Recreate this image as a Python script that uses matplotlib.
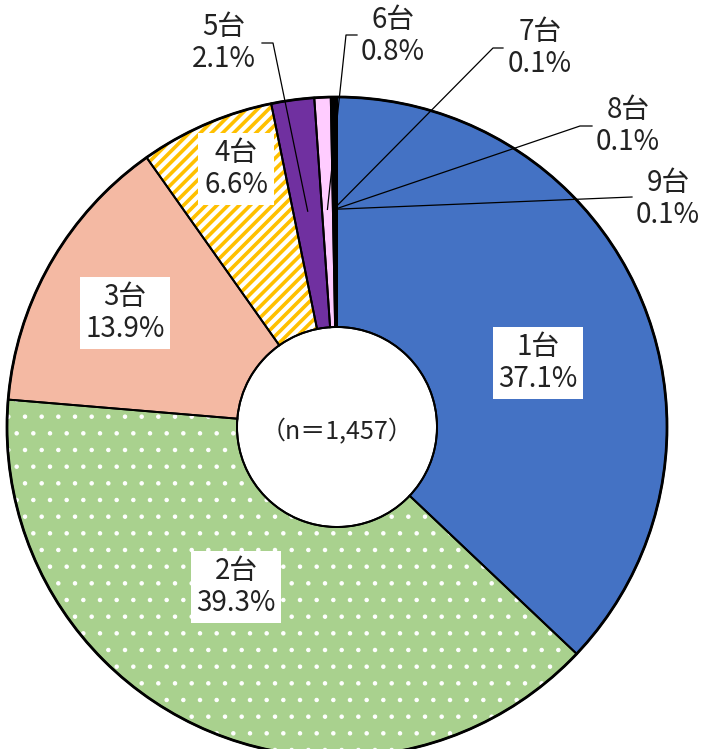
import numpy as np
import matplotlib
matplotlib.use('Agg')
import matplotlib.pyplot as plt

plt.rcParams['font.family'] = ['Noto Sans CJK JP', 'DejaVu Sans']

# data
labels = ['1台', '2台', '3台', '4台', '5台', '6台', '7台', '8台', '9台']
shares = [37.1, 39.3, 13.9, 6.6, 2.1, 0.8, 0.1, 0.1, 0.1]
n_total = '1,457'

# styles
colors = ['#4472C4', '#A9D18E', '#F4B9A3', '#FFFFFF', '#7030A0',
          '#FFCCFF', '#111111', '#1F2A44', '#000000']
hatches = [None, '.', None, '///', None, None, None, None, None]
hatch_colors = ['#4472C4', '#FFFFFF', '#F4B9A3', '#FFC000', '#7030A0',
                '#FFCCFF', '#111111', '#1F2A44', '#000000']
hatch_lw = [1.0, 0.8, 1.0, 2.6, 1.0, 1.0, 1.0, 1.0, 1.0]

# layout in reference pixels (figure is 703x749)
W, H = 703, 749
CX, CY, R = 337, 427, 330
HOLE = 100 / R


def px(x, y):
    return (x - CX) / R, (CY - y) / R


# label positions (pixels); boxed labels sit inside the ring
boxed_pos = {0: (538, 363), 1: (236, 587), 2: (125, 313), 3: (236, 169)}
# outside labels: text centre, elbow start, elbow end
outer_pos = {4: ((224, 43), (262, 43), (273, 43)),
             5: ((393, 36), (357, 35), (346, 35)),
             6: ((540, 48), (503, 48), (493, 48)),
             7: ((628, 126), (592, 126), (580, 126)),
             8: ((668, 199), (632, 197), (632, 197))}

fig = plt.figure(figsize=(W / 100, H / 100), dpi=100)
ax = fig.add_axes([0, 0, 1, 1])

plt.rcParams['hatch.linewidth'] = 1.0
fills, _ = ax.pie(shares, colors=colors, startangle=90, counterclock=False,
                  wedgeprops=dict(width=1 - HOLE, linewidth=0))
for w, h, hc, hl in zip(fills, hatches, hatch_colors, hatch_lw):
    w.set_edgecolor(hc)
    if h:
        w.set_hatch(h)
        if hasattr(w, 'set_hatch_linewidth'):
            w.set_hatch_linewidth(hl)

# outlines
ax.pie(shares, colors=['none'] * len(shares), startangle=90, counterclock=False,
       wedgeprops=dict(width=1 - HOLE, linewidth=1.4, edgecolor='black', fill=False))
ax.add_patch(plt.Circle((0, 0), 1.0, fill=False, lw=2.0, ec='black'))
ax.add_patch(plt.Circle((0, 0), HOLE, fill=False, lw=1.4, ec='black'))

# wedge mid angles (clockwise from top)
total = sum(shares)
cum = np.cumsum([0] + shares[:-1])
mids = [90 - (c + s / 2) / total * 360 for c, s in zip(cum, shares)]

txt = dict(fontsize=20, color='#222222', ha='center', va='center', linespacing=1.05)

for i, (x, y) in boxed_pos.items():
    ax.text(*px(x, y), f'{labels[i]}\n{shares[i]:.1f}%', zorder=5,
            bbox=dict(boxstyle='square,pad=0.2', fc='white', ec='none'), **txt)

for i, (tpos, e0, e1) in outer_pos.items():
    ax.text(*px(*tpos), f'{labels[i]}\n{shares[i]:.1f}%', zorder=5, **txt)
    a = np.deg2rad(mids[i])
    tip = (0.66 * np.cos(a), 0.66 * np.sin(a))
    p0, p1 = px(*e0), px(*e1)
    ax.plot([p0[0], p1[0], tip[0]], [p0[1], p1[1], tip[1]],
            color='black', lw=0.9, zorder=4)

ax.text(0, px(0, 432)[1], f'（n＝{n_total}）', fontsize=18, color='#222222',
        ha='center', va='center')

ax.set_xlim(px(0, 0)[0], px(W, 0)[0])
ax.set_ylim(px(0, H)[1], px(0, 0)[1])
ax.set_aspect('auto')
ax.axis('off')

fig.savefig('out.png', dpi=100)
